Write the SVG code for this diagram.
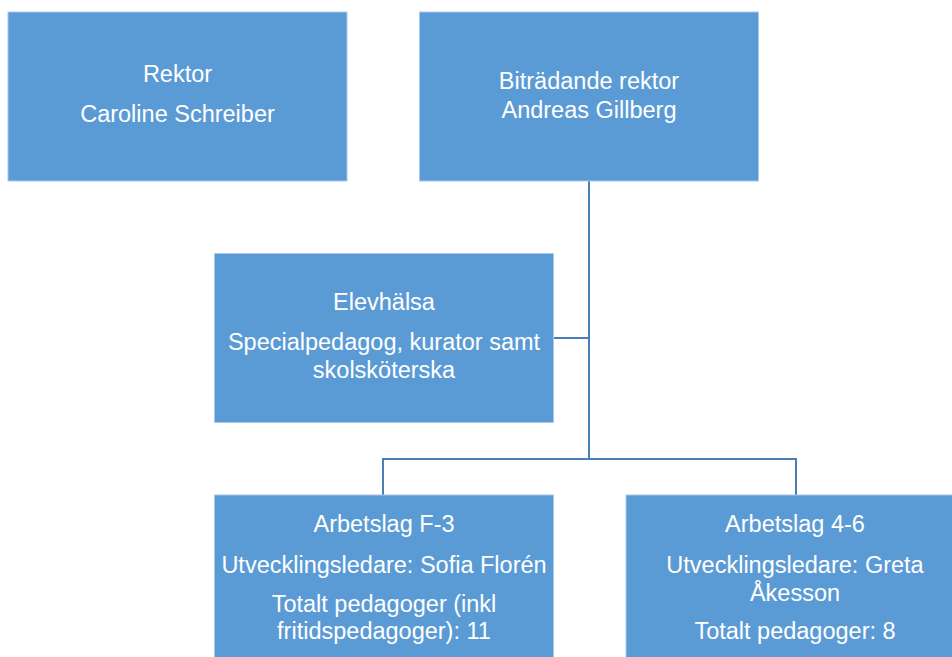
<svg xmlns="http://www.w3.org/2000/svg" width="952" height="657" viewBox="0 0 952 657">
<style>
.box{fill:#5B9BD5;stroke:#A9C8EB;stroke-width:1}
.t{font-family:"Liberation Sans",Arial,sans-serif;font-size:23.5px;fill:#FFFFFF;text-anchor:middle}
.c{fill:none;stroke:#4A7EBB;stroke-width:2}
</style>
<rect width="952" height="657" fill="#FFFFFF"/>
<g id="connectors">
<polyline class="c" points="589,181 589,459"/>
<polyline class="c" points="553,338 589,338"/>
<polyline class="c" points="383,495 383,459 796,459 796,495"/>
</g>
<g id="rektor">
<rect class="box" x="8" y="12" width="339" height="169"/>
<text class="t" x="177.5" y="82">Rektor</text>
<text class="t" x="177.5" y="122">Caroline Schreiber</text>
</g>
<g id="bitradande">
<rect class="box" x="419.5" y="12" width="339" height="169"/>
<text class="t" x="589" y="89">Biträdande rektor</text>
<text class="t" x="589" y="118">Andreas Gillberg</text>
</g>
<g id="elevhalsa">
<rect class="box" x="214.5" y="253.5" width="339" height="169"/>
<text class="t" x="384" y="310">Elevhälsa</text>
<text class="t" x="384" y="350">Specialpedagog, kurator samt</text>
<text class="t" x="384" y="378">skolsköterska</text>
</g>
<g id="arbetslag-f3">
<rect class="box" x="214.5" y="495" width="339" height="169"/>
<text class="t" x="384" y="532">Arbetslag F-3</text>
<text class="t" x="384" y="573">Utvecklingsledare: Sofia Florén</text>
<text class="t" x="384" y="612">Totalt pedagoger (inkl</text>
<text class="t" x="384" y="639">fritidspedagoger): 11</text>
</g>
<g id="arbetslag-46">
<rect class="box" x="626" y="495" width="339" height="169"/>
<text class="t" x="795" y="532">Arbetslag 4-6</text>
<text class="t" x="795" y="573">Utvecklingsledare: Greta</text>
<text class="t" x="795" y="601">Åkesson</text>
<text class="t" x="795" y="639">Totalt pedagoger: 8</text>
</g>
</svg>
